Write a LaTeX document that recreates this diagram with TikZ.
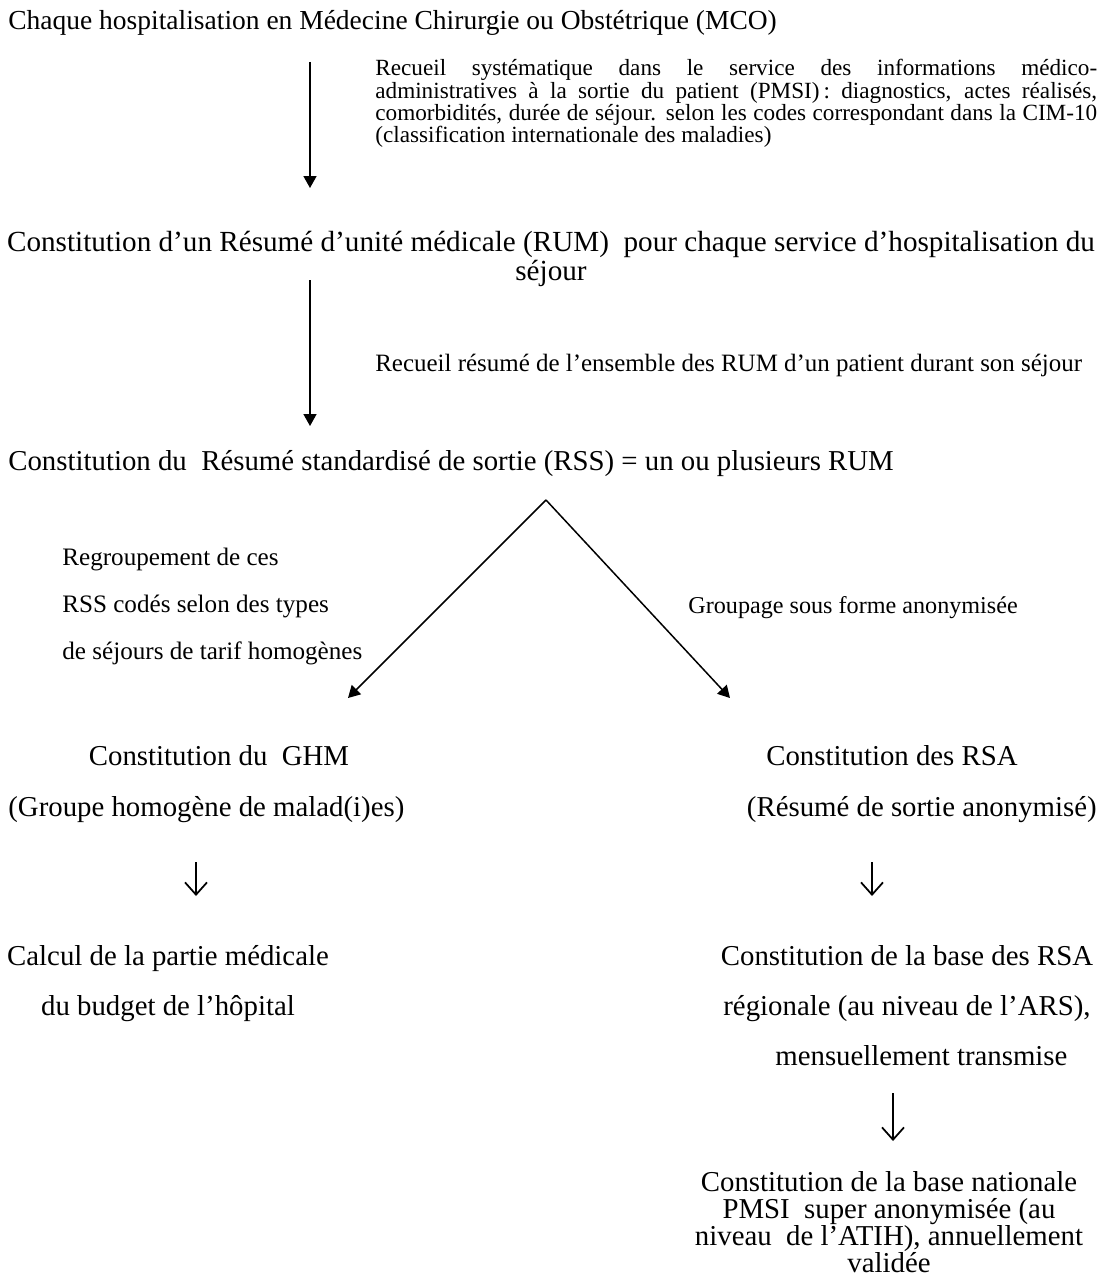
\documentclass[tikz,border=0pt]{standalone}
\usepackage{fontspec}
\setmainfont{Liberation Serif}
\usetikzlibrary{arrows.meta, positioning}

\begin{document}
\begin{tikzpicture}[x=0.02cm, y=-0.02cm,
    every node/.style={inner sep=0pt},
    texte/.style={font=\fontsize{16.4}{18}\selectfont},
    note/.style={font=\fontsize{14}{16}\selectfont},
    fleche/.style={line width=0.85pt, -{Triangle[length=6.8pt,width=7.4pt]}},
    petite/.style={line width=1pt, -{Straight Barb[length=7pt,width=12.5pt]}}]
  \useasboundingbox (0,0) rectangle (1101,1277);

  \node[anchor=base west, font=\fontsize{15.65}{18}\selectfont] (hosp) at (8,30)
    {Chaque hospitalisation en Médecine Chirurgie ou Obstétrique (MCO)};
  \node[anchor=base west, align=left, font=\fontsize{13.2}{12.75}\selectfont] (recueil) at (375,143)
    {\makebox[14.44cm][s]{Recueil systématique dans le service des informations médico-}\\
     \makebox[14.44cm][s]{administratives à la sortie du patient (PMSI)\,: diagnostics, actes réalisés,}\\
     \makebox[14.44cm][s]{comorbidités, durée de séjour. selon les codes correspondant dans la CIM-10}\\
     (classification internationale des maladies)};
  \node[anchor=base, align=center, font=\fontsize{16.6}{14.2}\selectfont] (rum) at (551,280)
    {Constitution d’un Résumé d’unité médicale (RUM)\ \ pour chaque service d’hospitalisation du\\séjour};
  \node[anchor=base west, font=\fontsize{14.2}{16}\selectfont] (resume) at (375,371)
    {Recueil résumé de l’ensemble des RUM d’un patient durant son séjour};
  \node[texte, anchor=base west] (rss) at (8,470)
    {Constitution du\ \ Résumé standardisé de sortie (RSS) = un ou plusieurs RUM};
  \node[anchor=base west, align=left, font=\fontsize{14.3}{26.6}\selectfont] (regroup) at (62,659)
    {Regroupement de ces\\RSS codés selon des types\\de séjours de tarif homogènes};
  \node[anchor=base west, font=\fontsize{13.75}{16}\selectfont] (groupage) at (688,613)
    {Groupage sous forme anonymisée};

  \node[texte, anchor=base] (ghm) at (219,765) {Constitution du\ \ GHM};
  \node[texte, anchor=base west] (ghmdef) at (8,816) {(Groupe homogène de malad(i)es)};
  \node[texte, anchor=base] (rsa) at (892,765) {Constitution des RSA};
  \node[texte, anchor=base east] (rsadef) at (1097,816) {(Résumé de sortie anonymisé)};

  \node[anchor=base, align=center, font=\fontsize{16.4}{28.3}\selectfont] (calcul) at (168,1015)
    {Calcul de la partie médicale\\du budget de l’hôpital};
  \node[anchor=base, align=center, font=\fontsize{16.4}{28.3}\selectfont] (basersa) at (907,1065)
    {Constitution de la base des RSA\\régionale (au niveau de l’ARS),\\\ \ \ \ mensuellement transmise};
  \node[anchor=base, align=center, font=\fontsize{16.4}{15.2}\selectfont] (nat) at (889,1272)
    {Constitution de la base nationale\\PMSI\ \ super anonymisée (au\\niveau\ \ de l’ATIH), annuellement\\validée};

  \coordinate (a1) at (310,62);   \coordinate (b1) at (310,188);
  \coordinate (a2) at (310,280);  \coordinate (b2) at (310,426);
  \coordinate (apex) at (546,500);
  \coordinate (vl) at (348,698);  \coordinate (vr) at (730,698);
  \coordinate (a3) at (196,862);  \coordinate (b3) at (196,896);
  \coordinate (a4) at (872,862);  \coordinate (b4) at (872,896);
  \coordinate (a5) at (893,1093); \coordinate (b5) at (893,1141);

  \draw[fleche] (a1) -- (b1);
  \draw[fleche] (a2) -- (b2);
  \draw[fleche] (apex) -- (vl);
  \draw[fleche] (apex) -- (vr);
  \draw[petite] (a3) -- (b3);
  \draw[petite] (a4) -- (b4);
  \draw[petite] (a5) -- (b5);
\end{tikzpicture}
\end{document}
